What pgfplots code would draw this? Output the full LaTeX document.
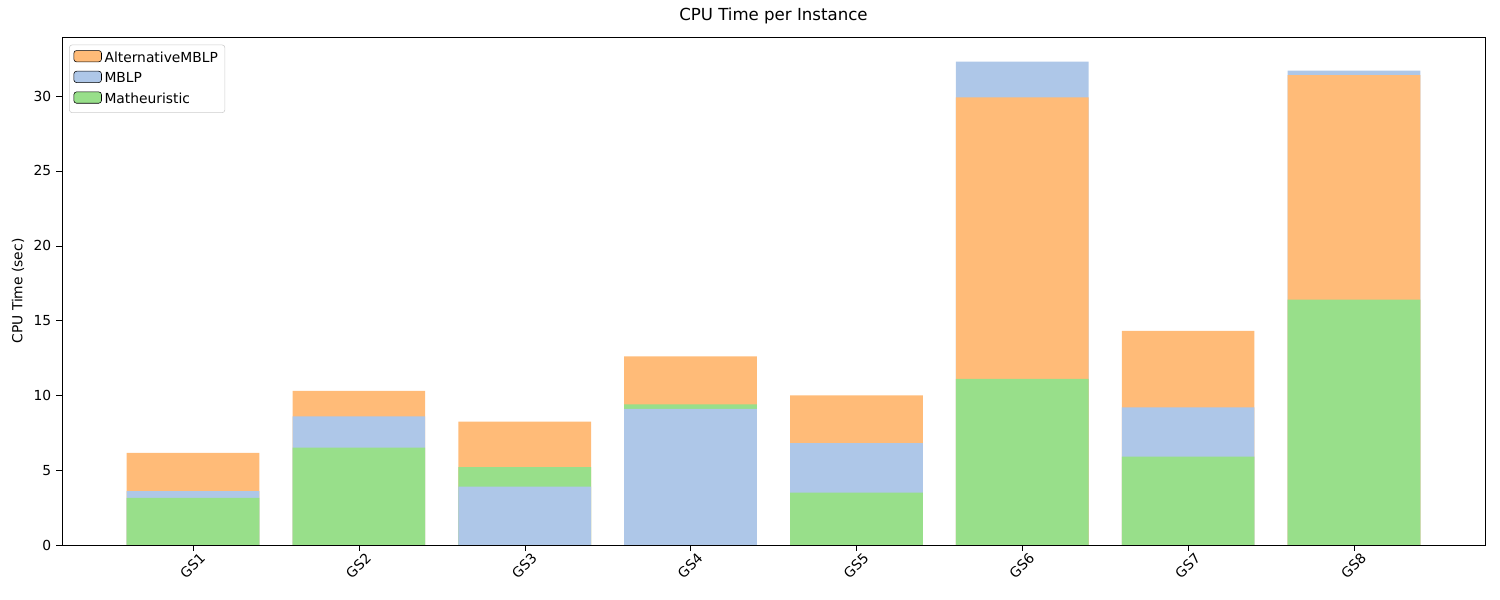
\documentclass[border=0pt]{standalone}
\usepackage{pgfplots}
\pgfplotsset{compat=1.18}
\usepackage{fontspec}
\setmainfont{DejaVu Sans}
\definecolor{corange}{HTML}{FFBB78}
\definecolor{cblue}{HTML}{AEC7E8}
\definecolor{cgreen}{HTML}{98DF8A}
\begin{document}
\begin{tikzpicture}
\useasboundingbox (0,0) rectangle (15in,6in);
\begin{axis}[
  at={(0.62in,0.55in)}, anchor=south west,
  scale only axis, width=14.23in, height=5.08in,
  xmin=0.21, xmax=8.79, ymin=0, ymax=33.94,
  ybar, bar width=0.8, bar shift=0pt,
  xtick={1,...,8}, xticklabels={GS1,GS2,GS3,GS4,GS5,GS6,GS7,GS8},
  xticklabel style={rotate=45, anchor=north east, xshift=6pt},
  ytick={0,5,...,30},
  xtick pos=bottom, ytick pos=left,
  tick align=outside, tick style={black},
  /pgf/number format/assume math mode=true,
  ticklabel style={font=\fontsize{10}{12}\selectfont},
  ylabel={CPU Time (sec)}, ylabel style={font=\fontsize{10}{12}\selectfont},
  title={CPU Time per Instance}, title style={font=\fontsize{12}{14}\selectfont},
  legend cell align=left,
  legend style={at={(0.005,0.985)}, anchor=north west, draw=gray!40, rounded corners=2pt,
    font=\fontsize{10}{12}\selectfont, row sep=2pt, inner sep=3pt},
  legend image code/.code={\fill[#1] (0pt,-0.5ex) rectangle (20pt,1.0ex);},
]
\addlegendimage{fill=corange}
\addlegendentry{AlternativeMBLP}
\addlegendimage{fill=cblue}
\addlegendentry{MBLP}
\addlegendimage{fill=cgreen}
\addlegendentry{Matheuristic}
% top layer
\addplot[fill=corange, draw=none, forget plot] coordinates {(1,6.15) (2,10.3) (3,8.25) (4,12.6) (5,10.0) (7,14.3)};
\addplot[fill=cblue, draw=none, forget plot] coordinates {(6,32.3) (8,31.7)};
% middle layer
\addplot[fill=cblue, draw=none, forget plot] coordinates {(1,3.6) (2,8.6) (5,6.8) (7,9.2)};
\addplot[fill=cgreen, draw=none, forget plot] coordinates {(3,5.2) (4,9.4)};
\addplot[fill=corange, draw=none, forget plot] coordinates {(6,29.9) (8,31.4)};
% bottom layer
\addplot[fill=cgreen, draw=none, forget plot] coordinates {(1,3.15) (2,6.5) (5,3.5) (6,11.1) (7,5.9) (8,16.4)};
\addplot[fill=cblue, draw=none, forget plot] coordinates {(3,3.9) (4,9.1)};
\end{axis}
\end{tikzpicture}
\end{document}
